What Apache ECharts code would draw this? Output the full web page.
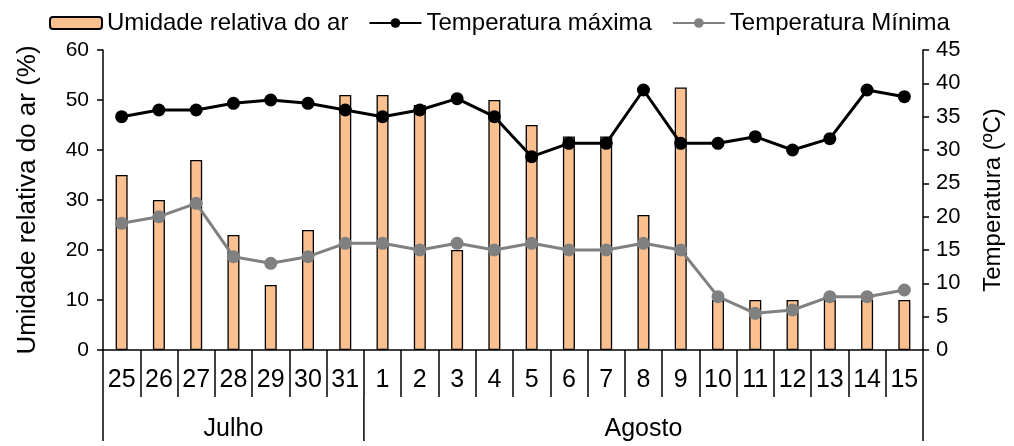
<!DOCTYPE html>
<html>
<head>
<meta charset="utf-8">
<script src="https://cdn.jsdelivr.net/npm/echarts@6/dist/echarts.min.js"></script>
<style>
  html, body { margin: 0; padding: 0; background: #fff; }
  #chart { width: 1014px; height: 446px; }
</style>
</head>
<body>
<div id="chart"></div>
<script>
// Dias do período (25 de julho a 15 de agosto)
const days = ['25','26','27','28','29','30','31','1','2','3','4','5','6','7','8','9','10','11','12','13','14','15'];
// Meses agrupando os dias: nome, índice inicial e final (exclusivo)
const months = [
  { name: 'Julho', from: 0, to: 7 },
  { name: 'Agosto', from: 7, to: 22 }
];
// Umidade relativa do ar (%)
const humidity = [35, 30, 38, 23, 13, 24, 51, 51, 49, 20, 50, 45, 42.7, 42.7, 27, 52.5, 10, 10, 10, 10, 10, 10];
// Temperatura máxima (ºC)
const tempMax = [35, 36, 36, 37, 37.5, 37, 36, 35, 36, 37.7, 35, 29, 31, 31, 39, 31, 31, 32, 30, 31.7, 39, 38];
// Temperatura mínima (ºC)
const tempMin = [19, 20, 22, 14, 13, 14, 16, 16, 15, 16, 15, 16, 15, 15, 16, 15, 8, 5.5, 6, 8, 8, 9];

const FONT = '"Liberation Sans", Arial, sans-serif';

// Nomes dos meses centralizados no seu intervalo de dias
const monthCenters = months.map(m => (m.from + m.to) / 2);
// Separadores dos meses: [dia, 0, lado da faixa (-0.5 início, +0.5 fim)]
const monthSeparators = months.map(m => [m.from, 0, -0.5])
  .concat([[months[months.length - 1].to - 1, 0, 0.5]]);

const chart = echarts.init(document.getElementById('chart'), null, { renderer: 'canvas' });

chart.setOption({
  animation: false,
  backgroundColor: '#ffffff',
  textStyle: { fontFamily: FONT, color: '#000' },
  legend: {
    left: 44,
    top: 6,
    itemWidth: 52,
    itemHeight: 12,
    itemGap: 20,
    textStyle: { fontFamily: FONT, fontSize: 24, color: '#000' },
    data: ['Umidade relativa do ar', 'Temperatura máxima', 'Temperatura Mínima']
  },
  grid: { left: 103, right: 91, top: 50, bottom: 96, containLabel: false },
  xAxis: [
    {
      type: 'category',
      data: days,
      boundaryGap: true,
      axisLine: { lineStyle: { color: '#000', width: 1.5 } },
      axisTick: { show: true, interval: 0, length: 47, lineStyle: { color: '#000', width: 1.5 } },
      axisLabel: { interval: 0, margin: 18, fontFamily: FONT, fontSize: 25, color: '#000' },
      splitLine: { show: false }
    },
    {
      // linha dos meses
      type: 'value',
      min: 0,
      max: days.length,
      position: 'bottom',
      offset: 47,
      axisLine: { show: false },
      axisTick: { show: false },
      axisLabel: {
        customValues: monthCenters,
        margin: 20,
        fontFamily: FONT, fontSize: 25, color: '#000',
        formatter: v => {
          const i = monthCenters.indexOf(v);
          return i >= 0 ? months[i].name : '';
        }
      },
      splitLine: { show: false }
    }
  ],
  yAxis: [
    {
      type: 'value',
      min: 0, max: 60, interval: 10,
      name: 'Umidade relativa do ar (%)',
      nameLocation: 'middle',
      nameRotate: 90,
      nameGap: 62,
      nameTextStyle: { fontFamily: FONT, fontSize: 26, color: '#000' },
      axisLine: { show: true, lineStyle: { color: '#000', width: 1.5 } },
      axisTick: { show: true, length: 6, lineStyle: { color: '#000', width: 1.5 } },
      axisLabel: { margin: 14, fontFamily: FONT, fontSize: 21, color: '#000' },
      splitLine: { show: false }
    },
    {
      type: 'value',
      min: 0, max: 45, interval: 5,
      position: 'right',
      name: 'Temperatura (ºC)',
      nameLocation: 'middle',
      nameRotate: 90,
      nameGap: 58,
      nameTextStyle: { fontFamily: FONT, fontSize: 24, color: '#000' },
      axisLine: { show: true, lineStyle: { color: '#000', width: 1.5 } },
      axisTick: { show: true, length: 6, lineStyle: { color: '#000', width: 1.5 } },
      axisLabel: { margin: 13, fontFamily: FONT, fontSize: 22, color: '#000' },
      splitLine: { show: false }
    }
  ],
  series: [
    {
      name: 'Umidade relativa do ar',
      type: 'bar',
      xAxisIndex: 0,
      yAxisIndex: 0,
      barWidth: 12,
      data: humidity,
      itemStyle: { color: '#FAC090', borderColor: '#000', borderWidth: 1.3 }
    },
    {
      name: 'Temperatura máxima',
      type: 'line',
      xAxisIndex: 0,
      yAxisIndex: 1,
      data: tempMax,
      symbol: 'circle',
      symbolSize: 13,
      lineStyle: { color: '#000', width: 3 },
      itemStyle: { color: '#000' }
    },
    {
      name: 'Temperatura Mínima',
      type: 'line',
      xAxisIndex: 0,
      yAxisIndex: 1,
      data: tempMin,
      symbol: 'circle',
      symbolSize: 13,
      lineStyle: { color: '#808080', width: 3 },
      itemStyle: { color: '#808080' }
    },
    {
      // separadores verticais entre os meses, abaixo da linha dos dias
      type: 'custom',
      xAxisIndex: 0,
      yAxisIndex: 0,
      silent: true,
      clip: false,
      data: monthSeparators,
      encode: { x: 0, y: 1 },
      renderItem: (params, api) => {
        const p = api.coord([api.value(0), api.value(1)]);
        const band = api.size([1, 0])[0];
        const x = p[0] + api.value(2) * band;
        return {
          type: 'line',
          shape: { x1: x, y1: p[1] + 47, x2: x, y2: p[1] + 91 },
          style: { stroke: '#000', lineWidth: 1.5 }
        };
      }
    }
  ]
});
</script>
</body>
</html>
